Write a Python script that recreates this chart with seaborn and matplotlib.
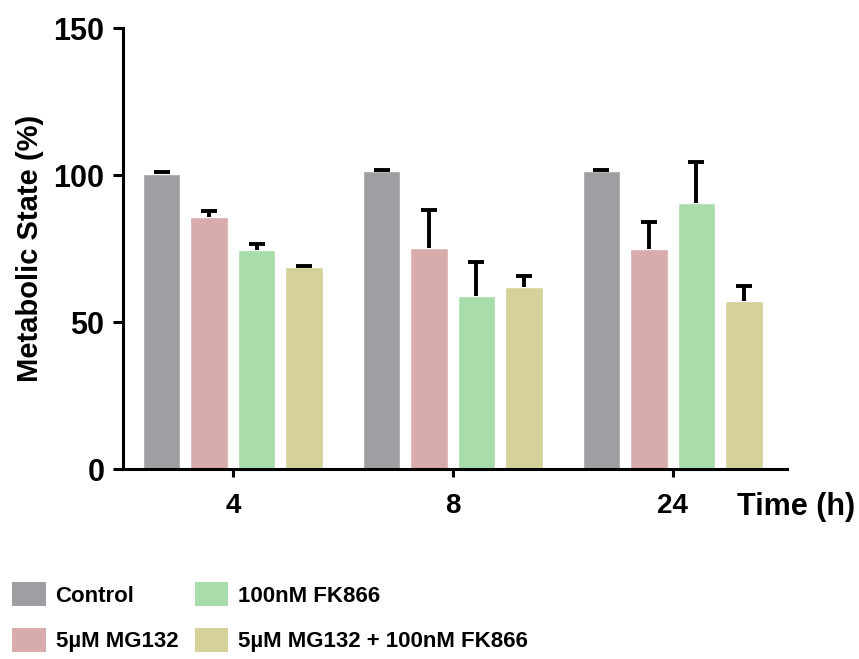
import pandas as pd
import matplotlib
matplotlib.use("Agg")
import matplotlib.pyplot as plt
import seaborn as sns
from matplotlib.patches import Patch

times = ["4", "8", "24"]
groups = ["Control", "5µM MG132", "100nM FK866", "5µM MG132 + 100nM FK866"]
colors = ["#9f9ea3", "#d8abac", "#a8dcaa", "#d4d298"]

control = [100.3, 101.3, 101.3]
control_err = [0.6, 0.5, 0.5]
mg132 = [85.7, 75.2, 74.8]
mg132_err = [2.0, 12.8, 9.2]
fk866 = [74.6, 58.9, 90.5]
fk866_err = [1.8, 11.4, 13.9]
combo = [68.6, 61.8, 57.0]
combo_err = [0.4, 3.7, 5.4]

values = [control, mg132, fk866, combo]
errors = [control_err, mg132_err, fk866_err, combo_err]

rows = []
for g, vals, errs in zip(groups, values, errors):
    for t, v, e in zip(times, vals, errs):
        rows.append({"Time": t, "Group": g, "Value": v, "Err": e})
df = pd.DataFrame(rows)

sns.set_style("ticks")
plt.rcParams["font.family"] = ["Liberation Sans", "DejaVu Sans"]
plt.rcParams["text.color"] = "black"
plt.rcParams["axes.labelcolor"] = "black"
plt.rcParams["xtick.color"] = "black"
plt.rcParams["ytick.color"] = "black"
plt.rcParams["axes.edgecolor"] = "black"

fig = plt.figure(figsize=(8.59, 6.59), dpi=100)
ax = fig.add_axes([0.1432, 0.2883, 0.7728, 0.6692])

sns.barplot(data=df, x="Time", y="Value", hue="Group", order=times,
            hue_order=groups, palette=colors, width=0.864, gap=0.21,
            errorbar=None, saturation=1, legend=False, ax=ax)

# upper-only error bars with a single cap
for container, vals, errs in zip(ax.containers, values, errors):
    xs = [b.get_x() + b.get_width() / 2 for b in container]
    tops = [v + e for v, e in zip(vals, errs)]
    ax.vlines(xs, vals, tops, colors="black", linewidth=2.8, zorder=3)
    ax.plot(xs, tops, ls="none", marker="_", ms=12, mew=2.8,
            color="black", zorder=3)

ax.set_ylim(0, 150)
ax.set_xlim(-0.5, 2.52)
ax.set_yticks([0, 50, 100, 150])
sns.despine(ax=ax)
for side in ["left", "bottom"]:
    ax.spines[side].set_linewidth(2.2)
ax.tick_params(axis="y", length=7, width=2.2, pad=6.5, labelsize=22)
ax.tick_params(axis="x", length=6, width=2.2, pad=11, labelsize=20)
for lab in ax.get_xticklabels() + ax.get_yticklabels():
    lab.set_fontweight("bold")

ax.set_xlabel("")
ax.set_ylabel("Metabolic State (%)", fontsize=21, fontweight="bold", labelpad=7)

fig.text(0.858, 0.2307, "Time (h)", fontsize=22, fontweight="bold",
         ha="left", va="center")

handles = [Patch(facecolor=c, edgecolor="none") for c in colors]
fig.legend(handles, groups, ncol=2, loc="upper left",
           bbox_to_anchor=(-0.009, 0.147), frameon=False,
           handlelength=1.5, handleheight=1.3,
           columnspacing=0.75, handletextpad=0.45, labelspacing=0.95,
           prop={"family": ["Liberation Sans", "DejaVu Sans"],
                 "weight": "bold", "size": 16})

fig.savefig("out.png", dpi=100)
